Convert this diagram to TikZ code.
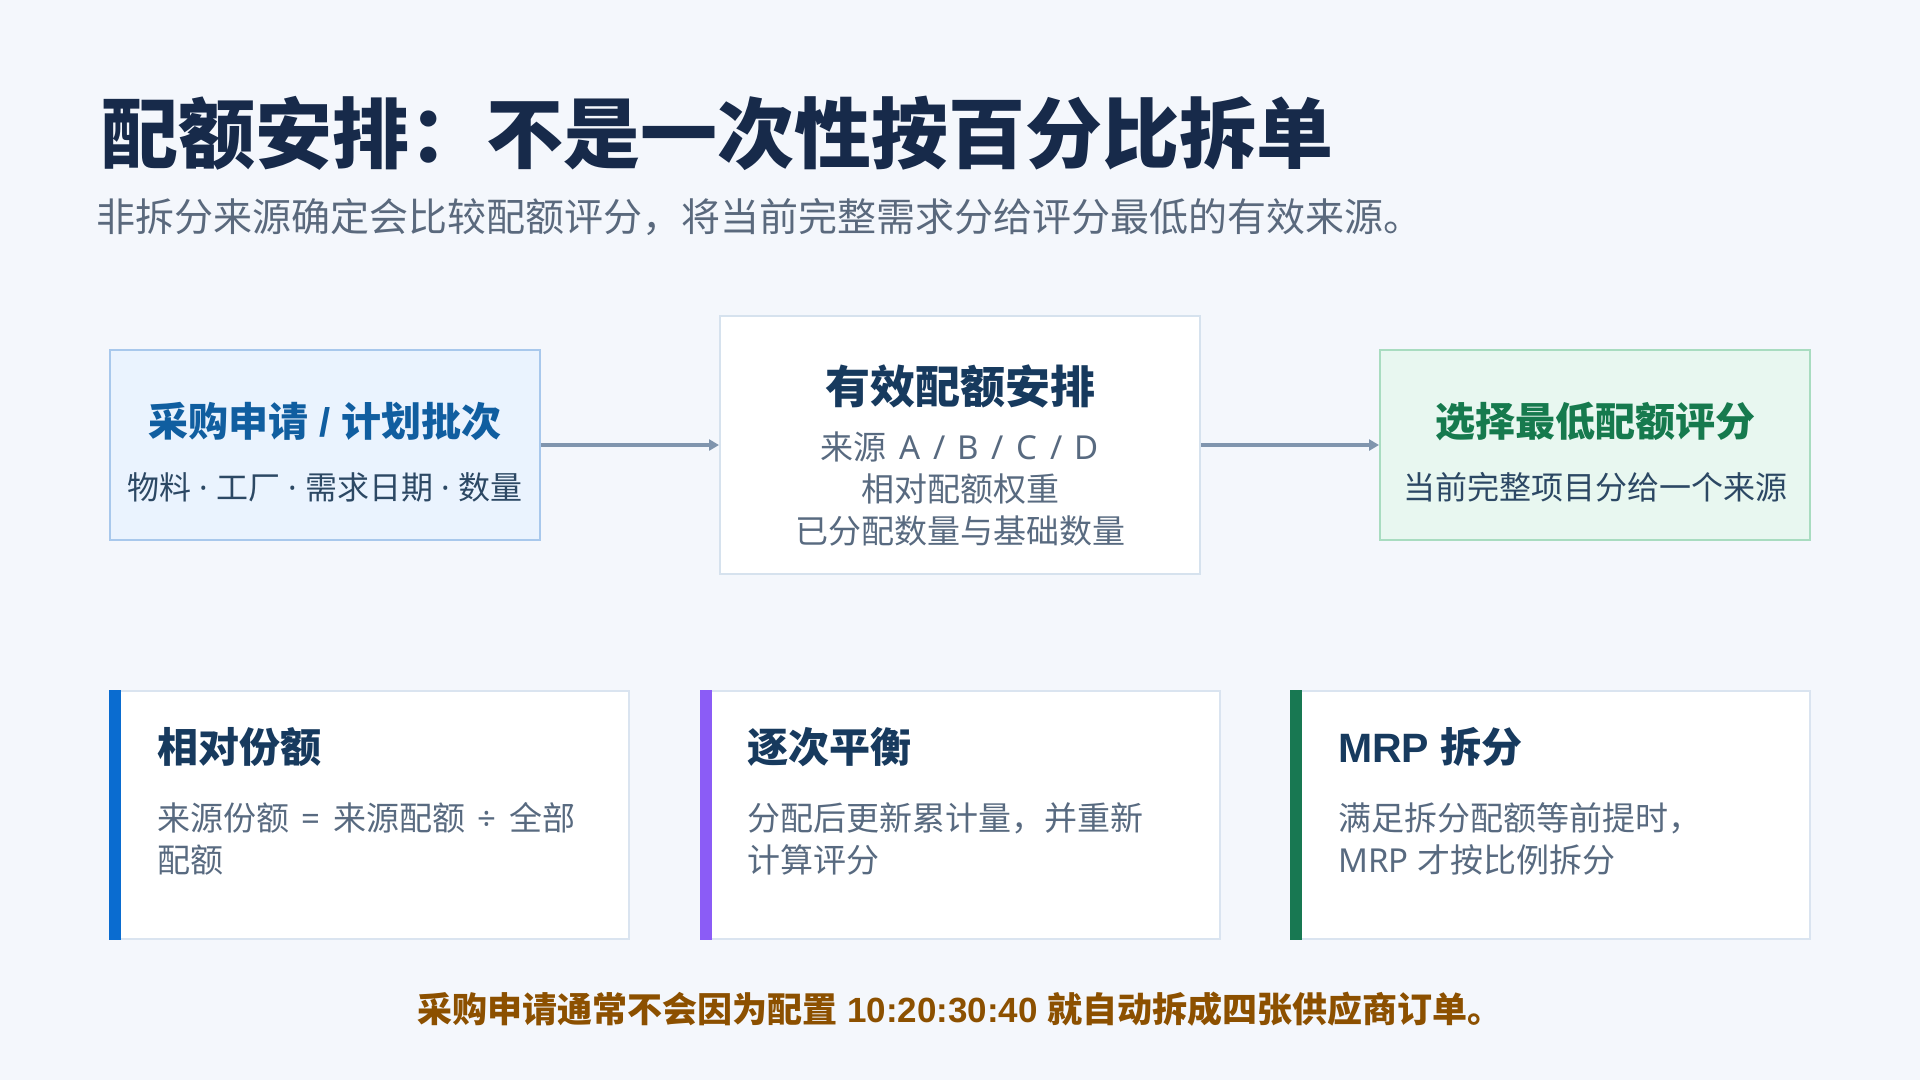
\documentclass[tikz,border=0pt]{standalone}
\usepackage{fontspec}
\setmainfont{Noto Sans CJK SC}
\newfontfamily\latinfont{Noto Sans}
\newfontfamily\latinbold{Liberation Sans}[UprightFont=* Bold]
\usepackage{xcolor}
\usetikzlibrary{arrows.meta, positioning}
\definecolor{pagebg}{RGB}{244, 247, 252}
\definecolor{titlenavy}{RGB}{23, 42, 74}
\definecolor{subgray}{RGB}{90, 105, 125}
\definecolor{requestfill}{RGB}{234, 243, 254}
\definecolor{requestline}{RGB}{168, 200, 236}
\definecolor{requestblue}{RGB}{16, 94, 160}
\definecolor{requesttext}{RGB}{44, 72, 100}
\definecolor{quotaline}{RGB}{214, 226, 238}
\definecolor{quotanavy}{RGB}{23, 58, 94}
\definecolor{bodygray}{RGB}{88, 106, 128}
\definecolor{pickfill}{RGB}{232, 247, 240}
\definecolor{pickline}{RGB}{168, 220, 192}
\definecolor{pickgreen}{RGB}{22, 122, 78}
\definecolor{arrowgray}{RGB}{128, 149, 174}
\definecolor{cardline}{RGB}{218, 228, 240}
\definecolor{accentblue}{RGB}{10, 108, 208}
\definecolor{accentpurple}{RGB}{139, 92, 246}
\definecolor{accentgreen}{RGB}{24, 120, 82}
\definecolor{notebrown}{RGB}{140, 80, 0}
\newcommand{\fsz}[2]{\fontsize{#1}{#2}\selectfont}
\newcommand{\lat}[1]{{\latinfont #1}}
\newcommand{\latb}[1]{{\latinbold #1}}
\newcommand{\wsp}{\hspace{0.38em}}

\begin{document}
\begin{tikzpicture}[x=1pt, y=-1pt, >={Triangle[length=10pt, width=11pt]},
    topbox/.style={draw, line width=2pt, minimum width=430pt, minimum height=190pt, inner sep=0pt},
    boxtitle/.style={inner sep=0pt, font=\fsz{40}{48}\bfseries},
    boxtext/.style={inner sep=0pt, font=\fsz{33}{42}},
    card/.style={draw=cardline, fill=white, line width=2pt, minimum width=519pt, minimum height=248pt, inner sep=0pt},
    cardtitle/.style={anchor=west, inner sep=0pt, font=\fsz{41}{48}\bfseries, text=quotanavy},
    cardtext/.style={anchor=west, inner sep=0pt, align=left, font=\fsz{33}{42}, text=bodygray},
    flow/.style={->, draw=arrowgray, line width=3.5pt}]

    % Page
    \fill[pagebg] (0, 0) rectangle (1920, 1080);
    \useasboundingbox (0, 0) rectangle (1920, 1080);

    % Heading
    \node[anchor=west, inner sep=0pt, font=\fsz{77}{92}\bfseries, text=titlenavy] (title) at (101, 133) {配额安排：不是一次性按百分比拆单};
    \node[anchor=west, inner sep=0pt, font=\fsz{39}{46}, text=subgray] (subtitle) at (96, 217) {非拆分来源确定会比较配额评分，将当前完整需求分给评分最低的有效来源。};

    % Flow boxes
    \node[topbox, draw=requestline, fill=requestfill] (request) at (325, 445) {};
    \node[boxtitle, text=requestblue] (requesttitle) at (325, 421) {采购申请\latb{ / }计划批次};
    \node[boxtext, font=\fsz{32}{42}, text=requesttext] (requestinfo) at (325, 487) {物料\lat{ · }工厂\lat{ · }需求日期\lat{ · }数量};

    \node[topbox, draw=quotaline, fill=white, minimum width=480pt, minimum height=258pt] (quota) at (960, 445) {};
    \node[boxtitle, font=\fsz{45}{52}\bfseries, text=quotanavy] (quotatitle) at (960, 386) {有效配额安排};
    \node[boxtext, text=bodygray] (quotasrc) at (960, 447) {来源\lat{\wsp A\wsp/\wsp B\wsp/\wsp C\wsp/\wsp D}};
    \node[boxtext, text=bodygray] (quotaweight) at (960, 489) {相对配额权重};
    \node[boxtext, text=bodygray] (quotaqty) at (960, 531) {已分配数量与基础数量};

    \node[topbox, draw=pickline, fill=pickfill] (pick) at (1595, 445) {};
    \node[boxtitle, text=pickgreen] (picktitle) at (1595, 422) {选择最低配额评分};
    \node[boxtext, font=\fsz{32}{42}, text=requesttext] (pickinfo) at (1595, 487) {当前完整项目分给一个来源};

    % Arrows
    \draw[flow] (request) -- (quota);
    \draw[flow] (quota) -- (pick);

    % Cards
    \node[card] (share) at (369.5, 815) {};
    \node[card] (balance) at (960, 815) {};
    \node[card] (mrp) at (1550.5, 815) {};
    \foreach \c/\col in {share/accentblue, balance/accentpurple, mrp/accentgreen} {
        \fill[\col] (\c.north west) rectangle ([xshift=12pt]\c.south west);
    }

    \node[cardtitle] (sharetitle) at ([xshift=48pt]share.west |- 0, 747) {相对份额};
    \node[cardtext] (sharetext) at ([xshift=48pt]share.west |- 0, 839) {来源份额\lat{\wsp=\wsp}来源配额\lat{\wsp÷\wsp}全部\\配额};
    \node[cardtitle] (balancetitle) at ([xshift=48pt]balance.west |- 0, 747) {逐次平衡};
    \node[cardtext] (balancetext) at ([xshift=48pt]balance.west |- 0, 839) {分配后更新累计量，并重新\\计算评分};
    \node[cardtitle] (mrptitle) at ([xshift=48pt]mrp.west |- 0, 747) {\latb{MRP }拆分};
    \node[cardtext] (mrptext) at ([xshift=48pt]mrp.west |- 0, 839) {满足拆分配额等前提时，\\\lat{MRP }才按比例拆分};

    % Note
    \node[inner sep=0pt, font=\fsz{35}{44}\bfseries, text=notebrown] (note) at (960, 1009) {采购申请通常不会因为配置\latb{ 10:20:30:40 }就自动拆成四张供应商订单。};

\end{tikzpicture}
\end{document}
